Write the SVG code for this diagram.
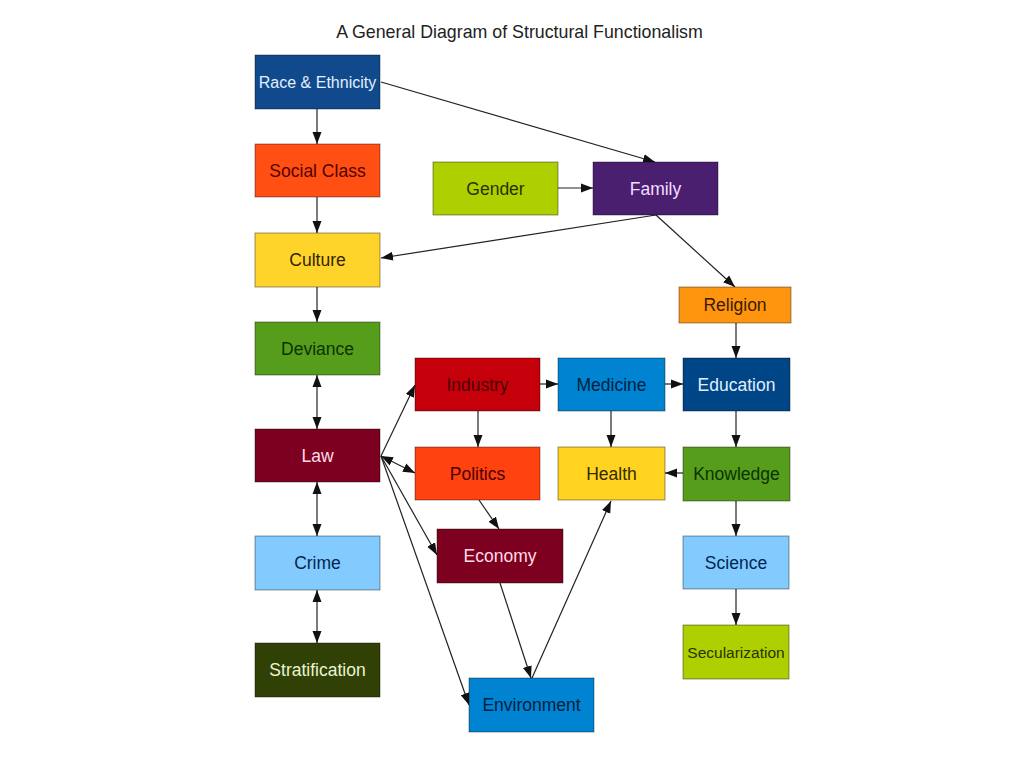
<svg xmlns="http://www.w3.org/2000/svg" width="1024" height="768" viewBox="0 0 1024 768">
<defs>
<marker id="arr" markerUnits="userSpaceOnUse" markerWidth="12" markerHeight="10" refX="12" refY="5" orient="auto-start-reverse" viewBox="0 0 12 10">
<path d="M0,0.5 L12,5 L0,9.5 z" fill="#111"/>
</marker>
</defs>
<style>
.n rect{stroke:#000;stroke-opacity:0.4;stroke-width:1}
.n text{font-family:"Liberation Sans",Arial,sans-serif;font-size:17.5px;text-anchor:middle;dominant-baseline:central}
.c line{stroke:#222;stroke-width:1.2;fill:none}
.a{marker-end:url(#arr)}
.d{marker-start:url(#arr);marker-end:url(#arr)}
.title{font-family:"Liberation Sans",Arial,sans-serif;font-size:17.8px;fill:#222;text-anchor:middle}
</style>
<rect width="1024" height="768" fill="#fff"/>
<text class="title" x="519.5" y="38">A General Diagram of Structural Functionalism</text>

<g id="connectors" class="c">
<line class="a" x1="317" y1="109" x2="317" y2="144"/>
<line class="a" x1="381" y1="82" x2="655" y2="162"/>
<line class="a" x1="558" y1="188" x2="593" y2="188"/>
<line class="a" x1="317" y1="197" x2="317" y2="233"/>
<line class="a" x1="656" y1="215" x2="381" y2="258"/>
<line class="a" x1="656" y1="215" x2="735" y2="287"/>
<line class="a" x1="317" y1="287" x2="317" y2="322"/>
<line class="d" x1="317" y1="375" x2="317" y2="429"/>
<line class="a" x1="381" y1="456" x2="415" y2="385"/>
<line class="d" x1="381" y1="456" x2="415" y2="473"/>
<line class="a" x1="381" y1="456" x2="437" y2="555"/>
<line class="a" x1="381" y1="456" x2="469" y2="705"/>
<line class="d" x1="317" y1="482" x2="317" y2="536"/>
<line class="d" x1="317" y1="590" x2="317" y2="643"/>
<line class="a" x1="736" y1="323" x2="736" y2="358"/>
<line class="a" x1="540" y1="384" x2="558" y2="384"/>
<line class="a" x1="665" y1="384" x2="683" y2="384"/>
<line class="a" x1="478" y1="411" x2="478" y2="447"/>
<line class="a" x1="611" y1="411" x2="611" y2="447"/>
<line class="a" x1="736" y1="411" x2="736" y2="447"/>
<line class="a" x1="683" y1="473" x2="665" y2="473"/>
<line class="a" x1="479" y1="500" x2="499" y2="529"/>
<line class="a" x1="736" y1="501" x2="736" y2="536"/>
<line class="a" x1="736" y1="589" x2="736" y2="625"/>
<line class="a" x1="500" y1="583" x2="531" y2="678"/>
<line class="a" x1="532" y1="678" x2="611" y2="501"/>
</g>

<g id="race" class="n"><rect x="255" y="55" width="125" height="54" fill="#114a8c"/><text x="317.5" y="82" style="font-size:16px" fill="#e2efff">Race &amp; Ethnicity</text></g>
<g id="social-class" class="n"><rect x="255" y="144" width="125" height="53" fill="#ff4f12"/><text x="317.5" y="170.5" fill="#550000">Social Class</text></g>
<g id="culture" class="n"><rect x="255" y="233" width="125" height="54" fill="#ffd42a"/><text x="317.5" y="260" fill="#332400">Culture</text></g>
<g id="deviance" class="n"><rect x="255" y="322" width="125" height="53" fill="#579d1c"/><text x="317.5" y="348.5" fill="#0b3300">Deviance</text></g>
<g id="law" class="n"><rect x="255" y="429" width="125" height="53" fill="#7e0021"/><text x="317.5" y="455.5" fill="#ffdbe6">Law</text></g>
<g id="crime" class="n"><rect x="255" y="536" width="125" height="54" fill="#83caff"/><text x="317.5" y="563" fill="#00284f">Crime</text></g>
<g id="stratification" class="n"><rect x="255" y="643" width="125" height="54" fill="#314004"/><text x="317.5" y="670" fill="#e8f5d2">Stratification</text></g>
<g id="gender" class="n"><rect x="433" y="162" width="125" height="53" fill="#aecf00"/><text x="495.5" y="188.5" fill="#283300">Gender</text></g>
<g id="family" class="n"><rect x="593" y="162" width="125" height="53" fill="#4b1f6f"/><text x="655.5" y="188.5" fill="#f3ddff">Family</text></g>
<g id="religion" class="n"><rect x="679" y="287" width="112" height="36" fill="#ff950e"/><text x="735" y="305" fill="#3a1a00">Religion</text></g>
<g id="industry" class="n"><rect x="415" y="358" width="125" height="53" fill="#c5000b"/><text x="477.5" y="384.5" fill="#4a0000">Industry</text></g>
<g id="medicine" class="n"><rect x="558" y="358" width="107" height="53" fill="#0084d1"/><text x="611.5" y="384.5" fill="#002040">Medicine</text></g>
<g id="education" class="n"><rect x="683" y="358" width="107" height="53" fill="#004586"/><text x="736.5" y="384.5" fill="#e0f0ff">Education</text></g>
<g id="politics" class="n"><rect x="415" y="447" width="125" height="53" fill="#ff420e"/><text x="477.5" y="473.5" fill="#4a0000">Politics</text></g>
<g id="health" class="n"><rect x="558" y="447" width="107" height="53" fill="#ffd320"/><text x="611.5" y="473.5" fill="#332a00">Health</text></g>
<g id="knowledge" class="n"><rect x="683" y="447" width="107" height="54" fill="#579d1c"/><text x="736.5" y="474" fill="#0b3300">Knowledge</text></g>
<g id="economy" class="n"><rect x="437" y="529" width="126" height="54" fill="#7e0021"/><text x="500" y="556" fill="#ffdbe6">Economy</text></g>
<g id="science" class="n"><rect x="683" y="536" width="106" height="53" fill="#83caff"/><text x="736" y="562.5" fill="#00284f">Science</text></g>
<g id="secularization" class="n"><rect x="683" y="625" width="106" height="54" fill="#aecf00"/><text x="736" y="652" style="font-size:15.5px" fill="#283300">Secularization</text></g>
<g id="environment" class="n"><rect x="469" y="678" width="125" height="54" fill="#0084d1"/><text x="531.5" y="705" fill="#002040">Environment</text></g>
</svg>
